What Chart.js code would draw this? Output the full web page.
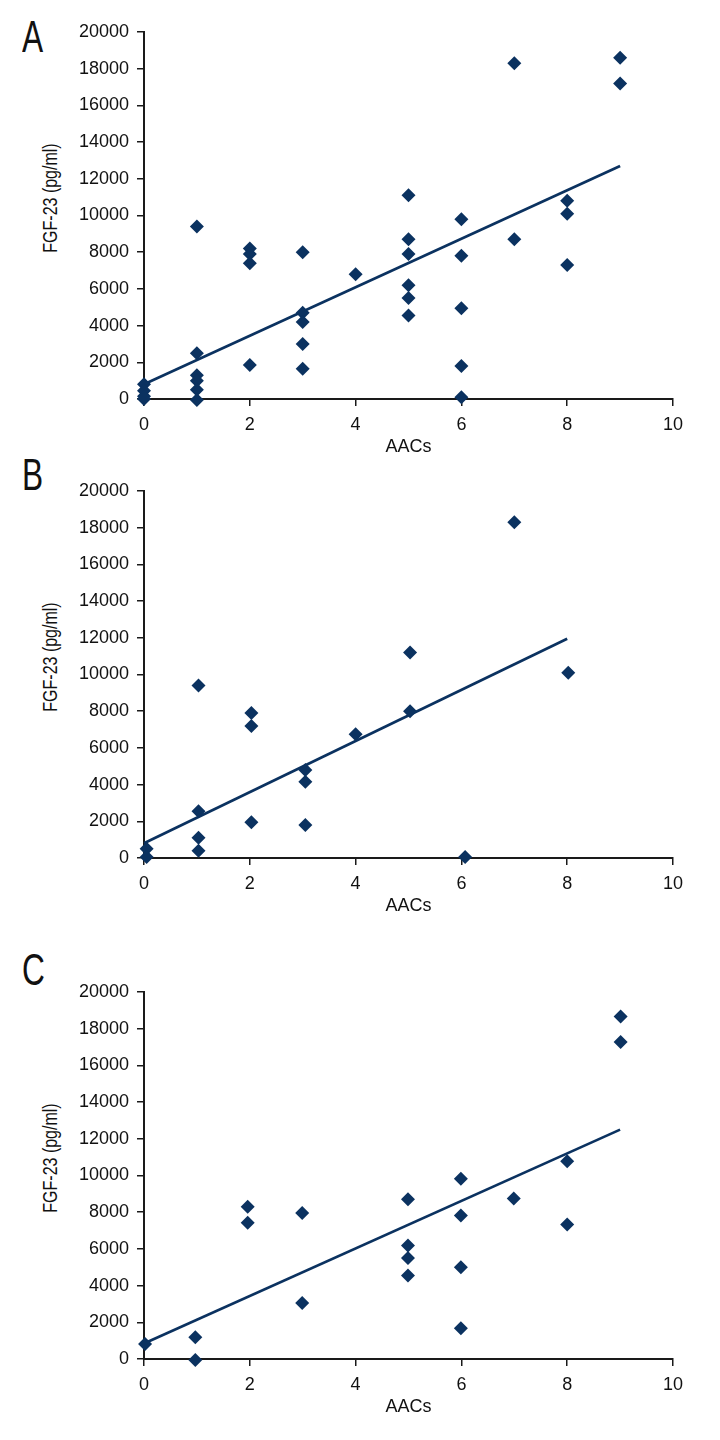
<!DOCTYPE html>
<html>
<head>
<meta charset="utf-8">
<script src="https://cdn.jsdelivr.net/npm/chart.js@4/dist/chart.umd.min.js"></script>
<style>
  body { margin: 0; background: #fff; }
  #page { position: relative; width: 720px; height: 1440px; overflow: hidden; font-family: "Liberation Sans", Arial, sans-serif; color: #111; }
  canvas { position: absolute; left: 0; }
  .letter { position: absolute; left: 22px; font-size: 44px; line-height: 44px; transform: scaleX(0.72); transform-origin: left top; }
  .ytitle { position: absolute; left: 50px; font-size: 20px; white-space: nowrap; transform: translate(-50%, -50%) rotate(-90deg) scale(0.8, 1); }
</style>
</head>
<body>
<div id="page">
  <div class="letter" style="top:15px">A</div>
  <div class="letter" style="top:453px">B</div>
  <div class="letter" style="top:948px">C</div>
  <div class="ytitle" style="top:198px">FGF-23 (pg/ml)</div>
  <div class="ytitle" style="top:657px">FGF-23 (pg/ml)</div>
  <div class="ytitle" style="top:1158px">FGF-23 (pg/ml)</div>
  <canvas id="chartA" width="720" height="460" style="top:0px"></canvas>
  <canvas id="chartB" width="720" height="460" style="top:459px"></canvas>
  <canvas id="chartC" width="720" height="460" style="top:960px"></canvas>
</div>
<script>
// axis ticks
var xTicks = [0, 2, 4, 6, 8, 10];
var yTicks = [0, 2000, 4000, 6000, 8000, 10000, 12000, 14000, 16000, 18000, 20000];

// panel A - all patients
var aacA = [0, 0, 0, 0, 1, 1, 1, 1, 1, 1, 2, 2, 2, 2, 3, 3, 3, 3, 3, 4, 5, 5, 5, 5, 5, 5, 6, 6, 6, 6, 6, 7, 7, 8, 8, 8, 9, 9];
var fgfA = [800, 450, 150, 0, 9400, 2500, 1300, 1000, 500, -50, 8200, 7900, 7400, 1850, 8000, 4700, 4200, 3000, 1650, 6800, 11100, 8700, 7900, 6200, 5500, 4550, 9800, 7800, 4950, 1800, 100, 18300, 8700, 10800, 10100, 7300, 18600, 17200];
var trendAx = [0, 9];
var trendAy = [800, 12700];

// panel B
var aacB = [0.05, 0.05, 1.03, 1.03, 1.03, 1.03, 2.03, 2.03, 2.03, 3.05, 3.05, 3.05, 4, 5.03, 5.03, 6.07, 7, 8.02];
var fgfB = [500, 50, 9400, 2550, 1100, 400, 7900, 7200, 1950, 4800, 4150, 1800, 6750, 11200, 8000, 50, 18300, 10100];
var trendBx = [0, 8];
var trendBy = [800, 11950];

// panel C
var aacC = [0.02, 0.97, 0.97, 1.96, 1.96, 2.99, 2.99, 4.99, 4.99, 4.99, 4.99, 5.99, 5.99, 5.99, 5.99, 6.99, 8, 8, 9.01, 9.01];
var fgfC = [820, 1180, -50, 8300, 7420, 7960, 3050, 8700, 6180, 5500, 4550, 9820, 7820, 5000, 1680, 8750, 10770, 7330, 18670, 17270];
var trendCx = [0, 9];
var trendCy = [850, 12500];

var navy = '#0b3260';
var axisColor = '#1a1a1a';
var tickFont = { family: 'Liberation Sans', size: 18 };

function toPoints(xs, ys) {
    var pts = [];
    for (var i = 0; i < xs.length; i++) {
        pts.push({ x: xs[i], y: ys[i] });
    }
    return pts;
}

function makePanel(id, xs, ys, tx, ty) {
    var ctx = document.getElementById(id).getContext('2d');
    return new Chart(ctx, {
        type: 'scatter',
        data: {
            datasets: [{
                data: toPoints(xs, ys),
                pointStyle: 'rectRot',
                pointRadius: 7,
                pointHoverRadius: 7,
                backgroundColor: navy,
                borderColor: navy,
                borderWidth: 0,
                clip: false
            }, {
                data: toPoints(tx, ty),
                showLine: true,
                pointRadius: 0,
                borderColor: navy,
                borderWidth: 2.7,
                clip: false
            }]
        },
        options: {
            responsive: false,
            devicePixelRatio: 1,
            animation: false,
            events: [],
            layout: { padding: { top: 32, right: 47, bottom: 0, left: 0 } },
            plugins: { legend: { display: false }, tooltip: { enabled: false } },
            scales: {
                x: {
                    type: 'linear',
                    min: 0,
                    max: 10,
                    afterBuildTicks: function (scale) {
                        scale.ticks = xTicks.map(function (v) { return { value: v }; });
                    },
                    afterFit: function (scale) { scale.height = 61; },
                    border: { display: true, color: axisColor, width: 2 },
                    grid: { drawOnChartArea: false, drawTicks: true, tickLength: 7, color: axisColor, lineWidth: 1.5 },
                    ticks: { font: tickFont, color: '#111', padding: 8, maxRotation: 0, callback: function (v) { return String(v); } },
                    title: { display: true, text: 'AACs', font: tickFont, color: '#111', padding: { top: 0, bottom: 2 } }
                },
                y: {
                    type: 'linear',
                    min: 0,
                    max: 20000,
                    afterBuildTicks: function (scale) {
                        scale.ticks = yTicks.map(function (v) { return { value: v }; });
                    },
                    afterFit: function (scale) { scale.width = 144; },
                    border: { display: true, color: axisColor, width: 2 },
                    grid: { drawOnChartArea: false, drawTicks: true, tickLength: 7, color: axisColor, lineWidth: 1.5 },
                    ticks: { font: tickFont, color: '#111', padding: 8, callback: function (v) { return String(v); } }
                }
            }
        }
    });
}

makePanel('chartA', aacA, fgfA, trendAx, trendAy);
makePanel('chartB', aacB, fgfB, trendBx, trendBy);
makePanel('chartC', aacC, fgfC, trendCx, trendCy);
</script>
</body>
</html>
